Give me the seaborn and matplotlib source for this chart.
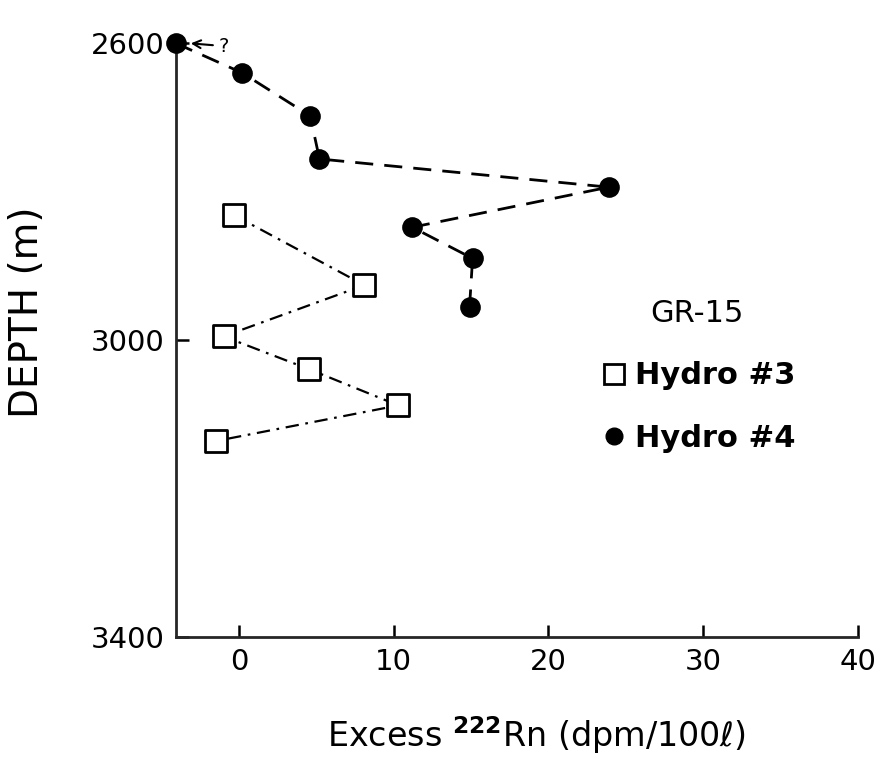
import matplotlib
matplotlib.use("Agg")
import matplotlib.pyplot as plt
from matplotlib.lines import Line2D
import pandas as pd
import seaborn as sns

# GR-15 excess Rn-222 profiles
hydro4_rn = [-4.1, 0.2, 4.6, 5.2, 23.9, 11.2, 15.1, 14.9]
hydro4_depth = [2600, 2640, 2698, 2756, 2794, 2848, 2890, 2956]

hydro3_rn = [-0.3, 8.1, -1.0, 4.5, 10.3, -1.5]
hydro3_depth = [2832, 2926, 2995, 3039, 3088, 3136]

x_ticks = [0, 10, 20, 30, 40]
y_ticks = [2600, 3000, 3400]

sns.set_style("ticks")
plt.rcParams["font.family"] = ["DejaVu Sans"]
plt.rcParams["text.color"] = "black"
plt.rcParams["axes.labelcolor"] = "black"
plt.rcParams["xtick.color"] = "black"
plt.rcParams["ytick.color"] = "black"

h4 = pd.DataFrame({"rn": hydro4_rn, "depth": hydro4_depth})
h3 = pd.DataFrame({"rn": hydro3_rn, "depth": hydro3_depth})

fig = plt.figure(figsize=(8.87, 7.57), dpi=100)
ax = fig.add_axes([0.198, 0.1585, 0.769, 0.7845])

sns.lineplot(data=h4, x="rn", y="depth", sort=False, estimator=None, ax=ax,
             color="black", lw=2.0, dashes=False, zorder=2)
ax.lines[-1].set_dashes([6.5, 4])
sns.lineplot(data=h3, x="rn", y="depth", sort=False, estimator=None, ax=ax,
             color="black", lw=1.6, dashes=False, zorder=2)
ax.lines[-1].set_dashes([6, 3, 1.2, 3])

sns.scatterplot(data=h4, x="rn", y="depth", ax=ax, marker="o", s=190,
                color="black", edgecolor="black", zorder=3, clip_on=False)
sns.scatterplot(data=h3, x="rn", y="depth", ax=ax, marker="s", s=230,
                facecolor="white", edgecolor="black", linewidth=2, zorder=3)

ax.set_xlim(-4.1, 40)
ax.set_ylim(3400, 2600)
ax.set_xticks(x_ticks)
ax.set_yticks(y_ticks)
ax.tick_params(direction="in", length=9, width=1.8, labelsize=21, pad=8)
for side in ["top", "right"]:
    ax.spines[side].set_visible(False)
for side in ["left", "bottom"]:
    ax.spines[side].set_linewidth(2)

ax.set_xlabel("Excess $^{\\mathbf{222}}$Rn (dpm/100$\\ell$)", fontsize=24)
ax.xaxis.set_label_coords(0.529, -0.13)
ax.set_ylabel("DEPTH (m)", fontsize=28)
ax.yaxis.set_label_coords(-0.19, 0.547)

ax.annotate("?", xy=(-3.3, 2600), xytext=(-1.3, 2604), fontsize=14,
            va="center", annotation_clip=False,
            arrowprops=dict(arrowstyle="->", color="black", lw=1.5))

handles = [
    Line2D([], [], marker="s", ls="", markersize=14, markerfacecolor="white",
           markeredgecolor="black", markeredgewidth=2, label="Hydro #3"),
    Line2D([], [], marker="o", ls="", markersize=12, color="black", label="Hydro #4"),
]
leg = ax.legend(handles=handles, title="GR-15", frameon=False, loc="center left",
                bbox_to_anchor=(0.58, 0.44), prop={"size": 22, "weight": "bold"},
                title_fontsize=22, handletextpad=0.2, labelspacing=1.1,
                handlelength=1.0)
leg.get_title().set_color("black")

fig.savefig("out.png", dpi=100)
